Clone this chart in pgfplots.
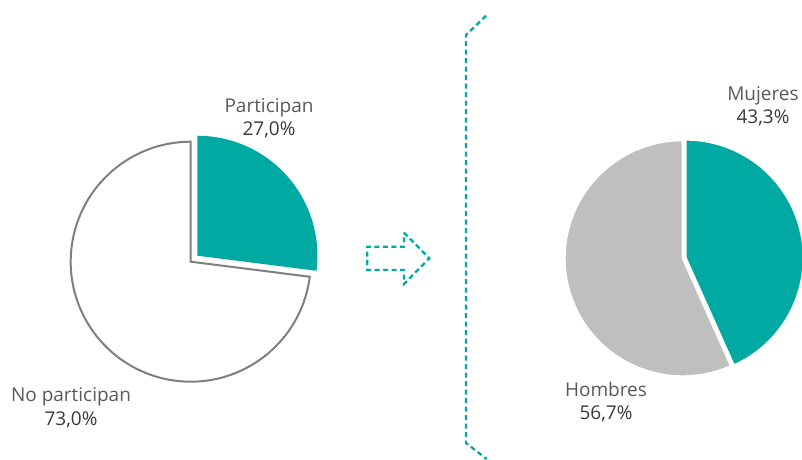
\documentclass[border=0pt]{standalone}
\usepackage{fontspec}
\setmainfont{Open Sans}
\usepackage{pgfplots}
\pgfplotsset{compat=1.18}
\usetikzlibrary{calc}
\definecolor{pieTeal}{HTML}{00A9A2}
\definecolor{pieGray}{HTML}{BFBFBF}
\definecolor{pieEdge}{HTML}{7F7F7F}
\definecolor{lblName}{HTML}{595959}
\definecolor{lblVal}{HTML}{3A3A3A}

% shares in percent
\newcommand\shareSi{27.0}   % Participan
\newcommand\shareNo{73.0}   % No participan
\newcommand\shareM{43.3}    % Mujeres
\newcommand\shareH{56.7}    % Hombres

\begin{document}
\begin{tikzpicture}[font=\fontsize{19bp}{22bp}\selectfont]
  \pgfmathsetmacro\aSi{90-3.6*\shareSi}
  \pgfmathsetmacro\mSi{90-1.8*\shareSi}
  \pgfmathsetmacro\aM{90-3.6*\shareM}
  \pgfmathsetmacro\mM{90-1.8*\shareM}
  \begin{axis}[
    width=802bp,height=460bp,scale only axis,
    xmin=0,xmax=802,ymin=0,ymax=460,
    hide axis,
  ]
    % left pie
    \draw[pieEdge,line width=2bp,fill=white]
      (axis cs:190.7,198.3) -- ++(\aSi:120bp)
      arc[start angle=\aSi,end angle=-270,radius=120bp] -- cycle;
    \fill[pieTeal]
      ($(axis cs:190.7,198.3)+(\mSi:9bp)$) -- ++(90:120bp)
      arc[start angle=90,end angle=\aSi,radius=120bp] -- cycle;
    \node[anchor=base,text=lblName] at (axis cs:269,347.5) {Participan};
    \node[anchor=base,text=lblVal]  at (axis cs:269,324.5) {27,0\%};
    \node[anchor=base,text=lblName] at (axis cs:71,58.3) {No participan};
    \node[anchor=base,text=lblVal]  at (axis cs:71,34) {73,0\%};

    % arrow and bracket
    \draw[pieTeal,line width=2.3bp,dash pattern=on 5bp off 3.5bp,line join=miter]
      (axis cs:404,227.3) -- (axis cs:429.3,201.7) -- (axis cs:404,176)
      -- (axis cs:404,190) -- (axis cs:367.3,190) -- (axis cs:367.3,213.3)
      -- (axis cs:404,213.3) -- cycle;
    \draw[pieTeal,line width=2.3bp,dash pattern=on 5bp off 3.5bp]
      (axis cs:486,444.3) -- (axis cs:466,425) -- (axis cs:466,17)
      -- (axis cs:486.7,1);

    % right pie
    \draw[white,line width=2bp,fill=pieGray]
      (axis cs:682.7,201.7) -- ++(\aM:118bp)
      arc[start angle=\aM,end angle=-270,radius=118bp] -- cycle;
    \draw[white,line width=2bp,fill=pieTeal]
      ($(axis cs:682.7,201.7)+(\mM:3bp)$) -- ++(90:118bp)
      arc[start angle=90,end angle=\aM,radius=118bp] -- cycle;
    \node[anchor=base,text=lblName] at (axis cs:763,359.3) {Mujeres};
    \node[anchor=base,text=lblVal]  at (axis cs:763,336.7) {43,3\%};
    \node[anchor=base,text=lblName] at (axis cs:606,63.3) {Hombres};
    \node[anchor=base,text=lblVal]  at (axis cs:606,40) {56,7\%};
  \end{axis}
  \pgfresetboundingbox
  \path[use as bounding box] (current axis.south west) rectangle (current axis.north east);
\end{tikzpicture}
\end{document}
